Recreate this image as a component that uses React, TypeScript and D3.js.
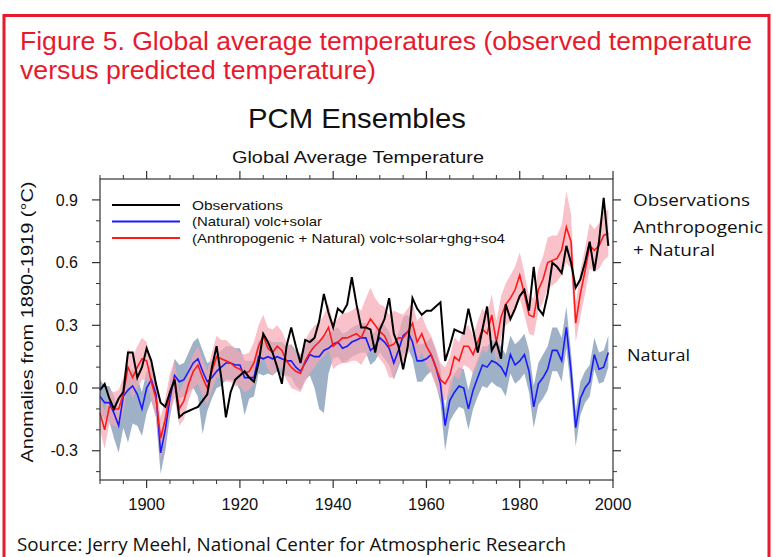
import React from 'react';
import * as d3 from 'd3';

const startYear = 1890;

const observations = [
  -0.01, 0.02, -0.05, -0.10, -0.05, -0.02, 0.17, 0.17, 0.05, 0.10,
  0.19, 0.13, 0.02, -0.07, -0.09, -0.02, 0.04, -0.14, -0.12, -0.11,
  -0.10, -0.09, -0.06, -0.03, 0.10, 0.20, 0.05, -0.14, -0.02, 0.04,
  0.06, 0.08, 0.05, 0.03, 0.12, 0.26, 0.22, 0.17, 0.10, 0.02,
  0.20, 0.29, 0.20, 0.12, 0.23, 0.22, 0.24, 0.32, 0.45, 0.36,
  0.29, 0.38, 0.36, 0.40, 0.53, 0.40, 0.29, 0.29, 0.28, 0.17,
  0.28, 0.33, 0.43, 0.26, 0.20, 0.09, 0.20, 0.43, 0.38, 0.35,
  0.37, 0.37, 0.39, 0.41, 0.13, 0.20, 0.28, 0.27, 0.26, 0.38,
  0.28, 0.17, 0.28, 0.39, 0.18, 0.22, 0.14, 0.40, 0.33, 0.38,
  0.44, 0.47, 0.37, 0.58, 0.38, 0.35, 0.45, 0.60, 0.58, 0.55,
  0.68, 0.60, 0.48, 0.52, 0.60, 0.70, 0.56, 0.70, 0.91, 0.68,
];

const natural = [
  -0.04, -0.07, -0.07, -0.12, -0.18, -0.04, -0.01, 0.01, -0.03, -0.10,
  0.00, 0.04, -0.03, -0.31, -0.20, -0.05, 0.06, 0.03, 0.04, 0.08,
  0.12, 0.14, 0.08, 0.03, 0.05, 0.08, 0.10, 0.12, 0.12, 0.11,
  0.11, 0.05, 0.05, 0.05, 0.15, 0.14, 0.15, 0.14, 0.15, 0.14,
  0.13, 0.13, 0.10, 0.08, 0.12, 0.16, 0.15, 0.15, 0.18, 0.19,
  0.21, 0.22, 0.19, 0.20, 0.22, 0.23, 0.24, 0.24, 0.18, 0.20,
  0.24, 0.22, 0.19, 0.12, 0.18, 0.25, 0.27, 0.22, 0.13, 0.13,
  0.14, 0.16, 0.10, 0.02, -0.18, -0.06, -0.02, 0.01, 0.00, -0.10,
  -0.01, 0.05, 0.11, 0.10, 0.13, 0.12, 0.10, 0.06, 0.16, 0.11,
  0.13, 0.16, 0.08, -0.09, 0.02, 0.05, 0.09, 0.18, 0.18, 0.13,
  0.29, 0.08, -0.19, -0.05, 0.00, 0.03, 0.16, 0.09, 0.10, 0.17,
];

const anthroNatural = [
  -0.12, -0.20, -0.09, -0.10, -0.10, -0.03, 0.10, 0.05, 0.10, 0.14,
  0.13, 0.03, -0.05, -0.24, -0.15, -0.02, 0.04, -0.10, -0.06, 0.02,
  0.08, 0.11, 0.05, 0.00, 0.08, 0.15, 0.14, 0.13, 0.12, 0.10,
  0.09, 0.07, 0.08, 0.12, 0.20, 0.25, 0.19, 0.17, 0.20, 0.18,
  0.13, 0.10, 0.08, 0.07, 0.13, 0.17, 0.20, 0.22, 0.25, 0.29,
  0.20, 0.22, 0.24, 0.24, 0.25, 0.26, 0.24, 0.29, 0.33, 0.30,
  0.27, 0.25, 0.20, 0.21, 0.24, 0.24, 0.27, 0.31, 0.22, 0.26,
  0.20, 0.16, 0.10, 0.04, 0.02, 0.06, 0.15, 0.13, 0.20, 0.20,
  0.16, 0.22, 0.28, 0.26, 0.35, 0.22, 0.34, 0.40, 0.43, 0.47,
  0.54, 0.45, 0.35, 0.34, 0.47, 0.52, 0.60, 0.61, 0.62, 0.66,
  0.77, 0.70, 0.31, 0.45, 0.56, 0.68, 0.66, 0.68, 0.73, 0.74,
];

const anthroSpread = [
  0.08, 0.09, 0.08, 0.08, 0.09, 0.08, 0.09, 0.10, 0.10, 0.10,
  0.09, 0.09, 0.09, 0.10, 0.10, 0.09, 0.09, 0.08, 0.09, 0.08,
  0.08, 0.09, 0.09, 0.08, 0.09, 0.10, 0.09, 0.10, 0.09, 0.09,
  0.08, 0.09, 0.09, 0.10, 0.10, 0.10, 0.10, 0.11, 0.10, 0.09,
  0.09, 0.10, 0.09, 0.09, 0.10, 0.10, 0.10, 0.09, 0.10, 0.11,
  0.11, 0.11, 0.12, 0.12, 0.12, 0.13, 0.13, 0.14, 0.15, 0.13,
  0.13, 0.14, 0.15, 0.16, 0.12, 0.11, 0.11, 0.10, 0.10, 0.09,
  0.09, 0.09, 0.09, 0.08, 0.08, 0.09, 0.09, 0.09, 0.09, 0.10,
  0.09, 0.10, 0.10, 0.09, 0.10, 0.10, 0.10, 0.10, 0.11, 0.11,
  0.11, 0.10, 0.09, 0.09, 0.10, 0.11, 0.12, 0.12, 0.11, 0.12,
  0.17, 0.13, 0.09, 0.11, 0.11, 0.11, 0.10, 0.11, 0.12, 0.11,
];

const naturalSpreadLow = [
  0.08, 0.08, 0.09, 0.12, 0.13, 0.15, 0.25, 0.18, 0.15, 0.13,
  0.12, 0.10, 0.11, 0.10, 0.10, 0.09, 0.08, 0.08, 0.08, 0.10,
  0.12, 0.18, 0.30, 0.14, 0.10, 0.08, 0.09, 0.08, 0.08, 0.08,
  0.12, 0.18, 0.10, 0.09, 0.08, 0.08, 0.08, 0.08, 0.07, 0.08,
  0.07, 0.08, 0.09, 0.09, 0.08, 0.10, 0.15, 0.25, 0.30, 0.12,
  0.07, 0.07, 0.07, 0.07, 0.07, 0.07, 0.07, 0.07, 0.07, 0.07,
  0.07, 0.08, 0.08, 0.08, 0.08, 0.09, 0.08, 0.08, 0.10, 0.10,
  0.08, 0.08, 0.08, 0.09, 0.12, 0.10, 0.10, 0.10, 0.10, 0.10,
  0.09, 0.09, 0.10, 0.10, 0.10, 0.11, 0.10, 0.10, 0.09, 0.09,
  0.09, 0.09, 0.10, 0.10, 0.10, 0.10, 0.10, 0.10, 0.10, 0.10,
  0.10, 0.09, 0.09, 0.08, 0.07, 0.07, 0.07, 0.07, 0.07, 0.07,
];

const naturalSpreadHigh = [
  0.08, 0.08, 0.08, 0.08, 0.08, 0.08, 0.08, 0.08, 0.08, 0.08,
  0.08, 0.08, 0.08, 0.08, 0.08, 0.08, 0.08, 0.08, 0.08, 0.09,
  0.10, 0.10, 0.10, 0.09, 0.08, 0.08, 0.08, 0.08, 0.08, 0.08,
  0.08, 0.08, 0.08, 0.08, 0.08, 0.08, 0.08, 0.08, 0.07, 0.08,
  0.07, 0.08, 0.08, 0.08, 0.08, 0.08, 0.08, 0.08, 0.07, 0.07,
  0.07, 0.07, 0.07, 0.07, 0.07, 0.07, 0.07, 0.07, 0.07, 0.07,
  0.07, 0.08, 0.08, 0.08, 0.08, 0.09, 0.08, 0.08, 0.08, 0.08,
  0.08, 0.08, 0.08, 0.08, 0.08, 0.09, 0.09, 0.09, 0.09, 0.09,
  0.09, 0.09, 0.09, 0.10, 0.10, 0.10, 0.10, 0.10, 0.09, 0.10,
  0.10, 0.10, 0.10, 0.10, 0.10, 0.11, 0.11, 0.11, 0.11, 0.11,
  0.10, 0.09, 0.08, 0.08, 0.08, 0.08, 0.08, 0.08, 0.08, 0.08,
];

const xMajorTicks = [1900, 1920, 1940, 1960, 1980, 2000];
const yMajorTicks = [-0.3, 0.0, 0.3, 0.6, 0.9];
const legendLabels = [
  'Observations',
  '(Natural) volc+solar',
  '(Anthropogenic + Natural) volc+solar+ghg+so4',
];
const legendColors = ['#000000', '#1a1aff', '#ff1a1a'];

const RED = '#e8192c';
const helv = '"Liberation Sans", Arial, Helvetica, sans-serif';
const narrow = '"Liberation Sans Narrow", "Liberation Sans", Arial, sans-serif';
const myriad = '"Open Sans", "Noto Sans", sans-serif';

export default function App() {
  const W = 773;
  const H = 557;
  const x = d3.scaleLinear().domain([1890, 2000]).range([100, 613]);
  const y = d3.scaleLinear().domain([-0.44, 1.0]).range([480, 179]);
  const years = observations.map((_, i) => startYear + i);

  const line = d3
    .line<number>()
    .x((_, i) => x(years[i]))
    .y((d) => y(d));

  const redArea = d3
    .area<number>()
    .x((_, i) => x(years[i]))
    .y0((d, i) => y(d - anthroSpread[i]))
    .y1((d, i) => y(d + anthroSpread[i]));

  const blueArea = d3
    .area<number>()
    .x((_, i) => x(years[i]))
    .y0((d, i) => y(d - naturalSpreadLow[i]))
    .y1((d, i) => y(d + naturalSpreadHigh[i]));

  const xMinor = d3.range(1890, 2001, 5).filter((v) => !xMajorTicks.includes(v));
  const yMinor = d3
    .range(-4, 10, 1)
    .map((v) => v / 10)
    .filter((v) => !yMajorTicks.some((m) => Math.abs(m - v) < 1e-6));

  const [x0, x1] = x.range();
  const [yb, yt] = y.range();
  const axisColor = '#333';

  return (
    <svg
      width={W}
      height={H}
      style={{ position: 'absolute', left: 0, top: 0, background: '#fff' }}
    >
      <rect x={0} y={0} width={W} height={H} fill="#fff" />
      <rect x={4} y={15.5} width={765} height={600} fill="none" stroke={RED} strokeWidth={3} />

      <text x={20} y={50} fontFamily={narrow} fontSize={26} fill={RED} textLength={732} lengthAdjust="spacingAndGlyphs">
        Figure 5. Global average temperatures (observed temperature
      </text>
      <text x={20} y={79} fontFamily={narrow} fontSize={26} fill={RED} textLength={356} lengthAdjust="spacingAndGlyphs">
        versus predicted temperature)
      </text>

      <text x={248} y={128} fontFamily={helv} fontSize={28} fill="#111" textLength={218} lengthAdjust="spacingAndGlyphs">
        PCM Ensembles
      </text>
      <text x={232} y={163} fontFamily={helv} fontSize={17} fill="#111" textLength={252} lengthAdjust="spacingAndGlyphs">
        Global Average Temperature
      </text>

      {/* bands */}
      <path d={blueArea(natural) || ''} fill="#8ea3bd" fillOpacity={0.85} stroke="none" />
      <path d={redArea(anthroNatural) || ''} fill="#f7a6b3" fillOpacity={0.7} stroke="none" />

      {/* lines */}
      <path d={line(natural) || ''} fill="none" stroke={legendColors[1]} strokeWidth={1.6} />
      <path d={line(anthroNatural) || ''} fill="none" stroke={legendColors[2]} strokeWidth={1.6} />
      <path d={line(observations) || ''} fill="none" stroke={legendColors[0]} strokeWidth={2} />

      {/* frame */}
      <rect x={x0} y={yt} width={x1 - x0} height={yb - yt} fill="none" stroke={axisColor} strokeWidth={1.2} />

      {/* x ticks */}
      {xMajorTicks.map((t) => (
        <g key={'xm' + t}>
          <line x1={x(t)} x2={x(t)} y1={yb} y2={yb + 8} stroke={axisColor} strokeWidth={1.2} />
          <line x1={x(t)} x2={x(t)} y1={yt} y2={yt - 8} stroke={axisColor} strokeWidth={1.2} />
          <text x={x(t)} y={510} textAnchor="middle" fontFamily={helv} fontSize={16.5} fill="#111">
            {t}
          </text>
        </g>
      ))}
      {xMinor.map((t) => (
        <g key={'xn' + t}>
          <line x1={x(t)} x2={x(t)} y1={yb} y2={yb + 4} stroke={axisColor} strokeWidth={1} />
          <line x1={x(t)} x2={x(t)} y1={yt} y2={yt - 4} stroke={axisColor} strokeWidth={1} />
        </g>
      ))}

      {/* y ticks */}
      {yMajorTicks.map((t) => (
        <g key={'ym' + t}>
          <line x1={x0} x2={x0 - 8} y1={y(t)} y2={y(t)} stroke={axisColor} strokeWidth={1.2} />
          <line x1={x1} x2={x1 + 8} y1={y(t)} y2={y(t)} stroke={axisColor} strokeWidth={1.2} />
          <text x={78} y={y(t)} dy="0.36em" textAnchor="end" fontFamily={helv} fontSize={16} fill="#111">
            {t.toFixed(1)}
          </text>
        </g>
      ))}
      {yMinor.map((t) => (
        <g key={'yn' + t}>
          <line x1={x0} x2={x0 - 4} y1={y(t)} y2={y(t)} stroke={axisColor} strokeWidth={1} />
          <line x1={x1} x2={x1 + 4} y1={y(t)} y2={y(t)} stroke={axisColor} strokeWidth={1} />
        </g>
      ))}

      <text
        transform="translate(33,322) rotate(-90)"
        textAnchor="middle"
        fontFamily={helv}
        fontSize={17}
        fill="#111"
        textLength={281}
        lengthAdjust="spacingAndGlyphs"
      >
        Anomalies from 1890-1919 (°C)
      </text>

      {/* legend */}
      {legendLabels.map((lab, i) => (
        <g key={lab}>
          <line x1={112} x2={180} y1={205 + i * 16.5} y2={205 + i * 16.5} stroke={legendColors[i]} strokeWidth={2} />
          <text
            x={192}
            y={205 + i * 16.5}
            dy="0.35em"
            fontFamily={helv}
            fontSize={13}
            fill="#111"
            textLength={[91, 130, 313][i]}
            lengthAdjust="spacingAndGlyphs"
          >
            {lab}
          </text>
        </g>
      ))}

      {/* right labels */}
      <text x={633} y={206} fontFamily={myriad} fontSize={17} fill="#111" textLength={117} lengthAdjust="spacingAndGlyphs">
        Observations
      </text>
      <text x={633} y={233} fontFamily={myriad} fontSize={17} fill="#111" textLength={130} lengthAdjust="spacingAndGlyphs">
        Anthropogenic
      </text>
      <text x={633} y={256} fontFamily={myriad} fontSize={17} fill="#111" textLength={82} lengthAdjust="spacingAndGlyphs">
        + Natural
      </text>
      <text x={627} y={361} fontFamily={myriad} fontSize={17} fill="#111" textLength={63} lengthAdjust="spacingAndGlyphs">
        Natural
      </text>

      <text x={17} y={551} fontFamily={myriad} fontSize={19} fill="#111" textLength={549} lengthAdjust="spacingAndGlyphs">
        Source: Jerry Meehl, National Center for Atmospheric Research
      </text>
    </svg>
  );
}
